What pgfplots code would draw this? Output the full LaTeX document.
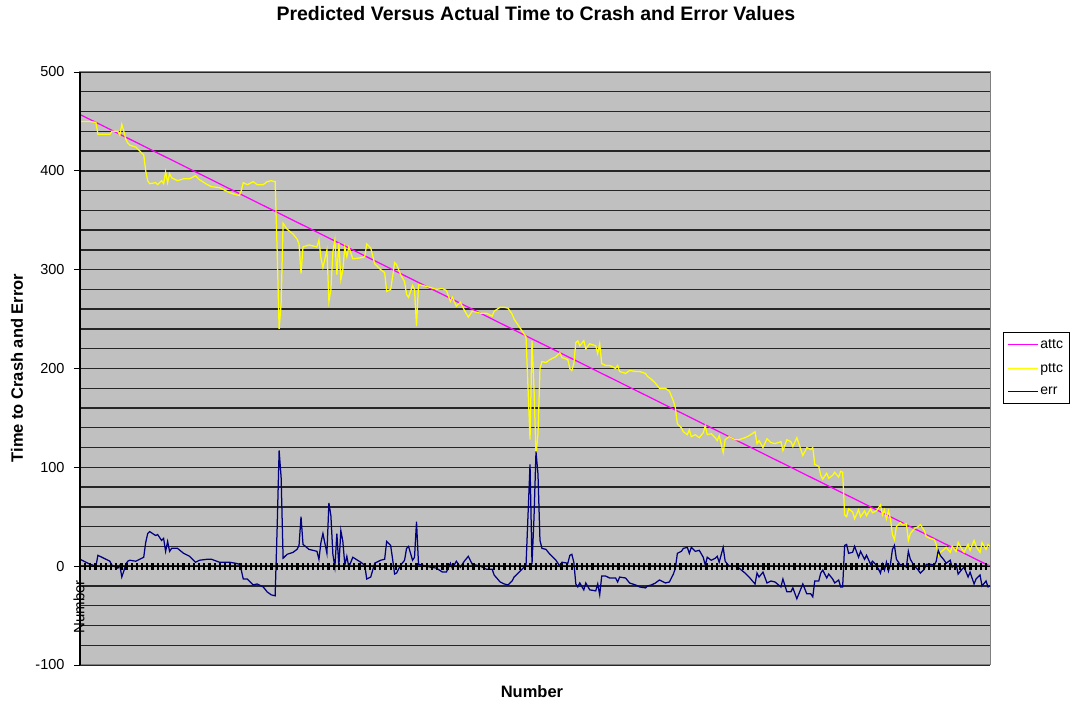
\documentclass[border=0pt]{standalone}
\usepackage{fontspec}
\setmainfont{Liberation Sans}
\usepackage{pgfplots}
\usepackage{pgfplotstable}
\pgfplotsset{compat=1.18}

\definecolor{plotbg}{RGB}{192,192,192}
\definecolor{framegray}{RGB}{128,128,128}
\definecolor{attccol}{RGB}{255,0,255}
\definecolor{pttccol}{RGB}{255,255,0}
\definecolor{errcol}{RGB}{0,0,128}

% predicted time to crash (pttc) and error (err) by record number
\pgfplotstableread{
n pttc err
0 450 7
5 450 2
8 449 0
9 437 11
15 437 5
16 440 1
19 440 -2
20 436 1
21 447 -11
22 440 -5
23 432 2
24 428 5
25 426 6
28 424 5
29 422 6
31 418 8
32 416 9
33 400 24
34 390 33
35 387 35
38 388 31
39 386 32
41 390 26
42 387 28
43 399 15
44 388 25
45 397 15
46 393 18
49 390 18
52 392 13
55 392 10
58 395 4
60 391 6
64 386 7
66 384 7
70 383 4
73 380 4
75 378 4
78 376 3
80 375 2
81 380 -4
82 388 -13
84 386 -13
87 389 -19
89 386 -18
92 386 -21
94 389 -26
96 390 -29
98 389 -30
99 320 38
100 240 117
101 266 90
102 347 8
104 341 12
107 336 14
109 331 17
110 326 21
111 296 50
112 323 22
115 325 17
119 323 15
120 330 7
121 312 24
122 302 33
124 320 13
125 268 64
126 280 51
127 318 12
128 330 -1
129 295 33
130 327 0
131 290 36
132 300 25
133 323 1
134 313 10
135 323 -1
137 311 9
141 312 4
143 313 1
144 326 -13
146 322 -11
147 314 -4
148 306 3
151 300 6
153 297 7
154 278 25
156 280 21
157 293 7
158 307 -8
159 305 -7
161 295 1
163 288 6
164 275 18
165 272 20
167 284 6
168 280 9
169 243 45
170 285 2
172 284 1
176 282 -1
179 280 -2
182 281 -6
184 279 -6
186 268 3
187 272 -2
189 263 5
191 267 -1
193 259 5
195 252 10
197 258 2
201 256 0
204 256 -3
207 253 -3
208 258 -9
211 262 -16
213 262 -18
215 261 -19
217 255 -15
218 250 -11
220 244 -7
222 238 -3
224 232 1
225 180 52
226 128 103
227 228 2
228 180 49
229 112 116
230 134 93
231 200 26
232 207 18
234 206 17
236 209 12
239 212 6
241 216 0
242 211 4
245 209 3
246 200 11
247 198 12
248 205 4
249 226 -18
250 228 -21
251 223 -17
253 228 -24
254 220 -17
256 225 -24
259 223 -25
260 215 -18
261 225 -29
262 205 -10
264 203 -10
266 203 -12
269 200 -12
270 203 -16
271 197 -11
274 195 -12
276 198 -17
279 197 -19
281 197 -21
284 195 -22
285 192 -20
287 189 -19
289 185 -17
291 180 -14
294 180 -17
296 177 -16
298 167 -8
299 160 -2
300 144 13
302 140 15
303 136 18
305 133 19
306 138 13
307 131 19
309 133 15
311 130 16
313 135 9
314 142 1
315 133 9
317 134 6
319 130 8
320 127 10
321 132 4
323 115 19
324 128 5
326 131 0
329 128 0
331 128 -2
334 130 -7
336 132 -11
339 136 -18
340 124 -7
341 127 -11
343 120 -6
345 129 -17
347 125 -15
349 124 -16
352 126 -21
353 117 -13
355 128 -26
357 126 -26
358 121 -22
360 130 -33
362 118 -23
363 112 -18
365 120 -28
367 118 -28
368 120 -31
369 103 -15
371 101 -15
372 92 -7
373 88 -4
375 94 -12
376 89 -8
378 92 -13
379 95 -17
381 90 -14
382 96 -21
383 95 -21
384 52 21
385 50 22
386 58 13
388 55 14
389 48 20
391 57 9
392 50 15
394 56 7
395 51 11
397 58 2
398 54 5
400 56 1
402 62 -7
403 52 2
404 57 -4
405 48 4
406 56 -5
407 48 2
408 32 17
409 27 21
410 40 7
412 44 1
413 42 2
415 43 -1
416 26 15
417 33 7
419 38 0
421 40 -4
422 42 -7
424 36 -3
425 30 2
427 28 2
429 27 1
430 22 5
431 10 16
432 14 11
434 17 6
435 19 3
437 14 6
438 20 -1
440 15 2
441 24 -8
443 17 -3
444 14 -1
446 22 -11
447 16 -6
449 26 -18
450 20 -13
452 14 -9
453 24 -20
455 17 -15
456 22 -21
457 20 -20
}\crashdata

\begin{document}
\begin{tikzpicture}
\useasboundingbox (0,0) rectangle (1072pt,704pt);
\begin{axis}[
  at={(80pt,39pt)}, anchor=south west,
  scale only axis, width=910pt, height=593pt,
  xmin=0, xmax=457, ymin=-100, ymax=500,
  clip=false,
  axis background/.style={fill=plotbg},
  axis line style={framegray, line width=1pt},
  xtick=\empty,
  ytick={-100,0,...,500},
  ytick pos=left,
  minor y tick num=4,
  ymajorgrids, yminorgrids,
  major grid style={black!85, line width=1.4pt},
  minor grid style={black!85, line width=1.4pt},
  ytick style={black, line width=0.8pt},
  minor tick length=0pt,
  tick align=outside, major tick length=6pt,
  yticklabel style={font=\fontsize{14.5}{16}\selectfont, xshift=-6pt},
  /pgf/number format/assume math mode=true,
  title={Predicted Versus Actual Time to Crash and Error Values},
  title style={at={(0.501,1.089)}, anchor=center,
    font=\fontsize{19.5}{21}\selectfont\bfseries},
  xlabel={Number},
  xlabel style={at={(0.4967,-0.0455)}, anchor=center,
    font=\fontsize{16.5}{18}\selectfont\bfseries},
  ylabel={Time to Crash and Error},
  ylabel style={at={(-0.0692,0.5008)}, anchor=center,
    font=\fontsize{16.5}{18}\selectfont\bfseries},
  legend style={at={(1.0143,0.5616)}, anchor=north west,
    draw=black, fill=white, font=\fontsize{14}{16}\selectfont,
    row sep=9.5pt, inner xsep=4pt, inner ysep=5pt,
    cells={anchor=west}},
  legend cell align=left,
  legend image code/.code={%
    \draw[mark repeat=2,mark phase=2,#1]
      plot coordinates {(0pt,0pt) (15pt,0pt) (30pt,0pt)};},
]
\addplot[attccol, line width=1.25pt] coordinates {(0,457) (457,0)};
\addlegendentry{attc}
\addplot[pttccol, line width=1.25pt] table[x=n, y=pttc] {\crashdata};
\addlegendentry{pttc}
\addplot[errcol, line width=1.25pt] table[x=n, y=err] {\crashdata};
\addlegendentry{err}
% dark value axis line on the left edge
\draw[black, line width=1.3pt] (rel axis cs:0,0) -- (rel axis cs:0,1);
\node[rotate=90, font=\fontsize{15}{17}\selectfont, text=black]
  at (rel axis cs:-0.001,0.098) {Number};
\end{axis}
% category tick marks along the zero line
\begin{axis}[
  at={(80pt,39pt)}, anchor=south west,
  scale only axis, width=910pt, height=593pt,
  xmin=0, xmax=457, ymin=-100, ymax=500,
  axis x line=middle, axis y line=none,
  x axis line style={-, black, line width=0.8pt},
  xtick distance=2.6, xticklabels={},
  tick align=center, major tick length=7pt,
  xtick style={black, line width=2.2pt},
]
\end{axis}
\end{tikzpicture}
\end{document}
